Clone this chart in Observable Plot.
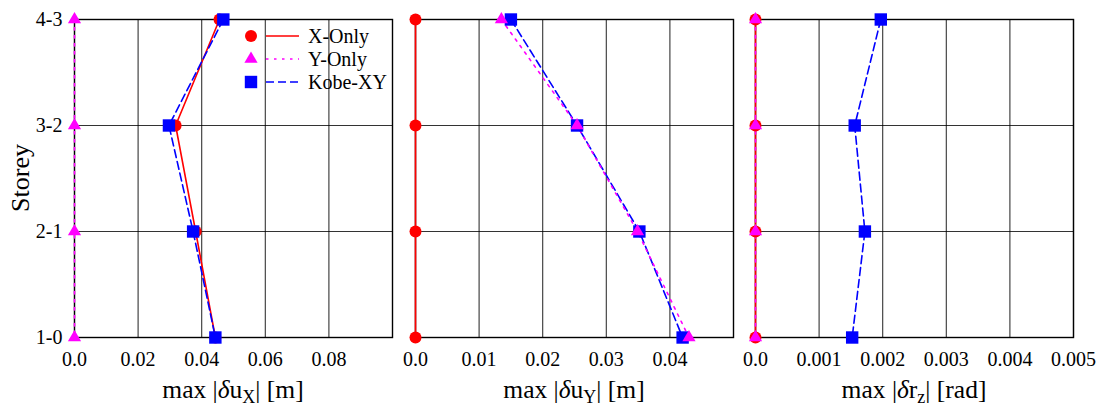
<!DOCTYPE html>
<html>
<head>
<meta charset="utf-8">
<script src="https://cdn.jsdelivr.net/npm/d3@7"></script>
<script src="https://cdn.jsdelivr.net/npm/@observablehq/plot@0.6"></script>
<style>
  html, body { margin: 0; padding: 0; background: #fff; }
  #chart { position: relative; width: 1099px; height: 406px; overflow: hidden; }
  #chart svg { position: absolute; top: 0; max-width: none; }
  #chart svg, #chart svg text, #chart svg tspan { font-family: "Liberation Serif", "Times New Roman", serif !important; }
</style>
</head>
<body>
<div id="chart"></div>
<script>
// ---- data ----
const storeys = ["4-3", "3-2", "2-1", "1-0"];
const seriesNames = ["X-Only", "Y-Only", "Kobe-XY"];
const seriesColors = ["#ff0000", "#ff00ff", "#0000ff"];

// panel 1: max |δu_X| [m]
const uxXOnly = [0.0456, 0.0318, 0.0381, 0.0443];
const uxYOnly = [0, 0, 0, 0];
const uxKobe  = [0.0468, 0.0297, 0.0373, 0.0443];
const uxTicks = [0, 0.02, 0.04, 0.06, 0.08];

// panel 2: max |δu_Y| [m]
const uyXOnly = [0, 0, 0, 0];
const uyYOnly = [0.0135, 0.0254, 0.0349, 0.0430];
const uyKobe  = [0.0150, 0.0254, 0.0352, 0.0420];
const uyTicks = [0, 0.01, 0.02, 0.03, 0.04];

// panel 3: max |δr_z| [rad]
const rzXOnly = [0, 0, 0, 0];
const rzYOnly = [0, 0, 0, 0];
const rzKobe  = [0.00197, 0.00156, 0.00172, 0.00152];
const rzTicks = [0, 0.001, 0.002, 0.003, 0.004, 0.005];

const tickFmt = d => d === 0 ? "0.0" : String(d);

function rows(vals) { return storeys.map((s, i) => ({storey: s, v: vals[i]})); }

const styles = {
  "X-Only":  {stroke: seriesColors[0], dash: null,      symbol: "circle",   r: 6},
  "Y-Only":  {stroke: seriesColors[1], dash: "2.5,5.5", symbol: "triangle", r: 4.9},
  "Kobe-XY": {stroke: seriesColors[2], dash: "8,4",     symbol: "square",   r: 7}
};

function panel({series, domain, ticks, showY, left, marginLeft, marginRight, title}) {
  const frameW = 318;
  const order = ["X-Only", "Kobe-XY", "Y-Only"];
  const marks = [
    Plot.gridX(ticks, {stroke: "#000", strokeOpacity: 0.8, strokeWidth: 1.1}),
    Plot.gridY(storeys, {stroke: "#000", strokeOpacity: 0.8, strokeWidth: 1.1}),
    Plot.frame({stroke: "#000", strokeWidth: 1.4}),
    Plot.axisX(ticks, {tickSize: 0, tickPadding: 14, tickFormat: tickFmt, label: null, fontSize: 20}),
  ];
  if (showY) marks.push(Plot.axisY({tickSize: 0, tickPadding: 12, label: null, fontSize: 20}));
  for (const name of order) {
    const st = styles[name];
    marks.push(Plot.line(rows(series[name]), {x: "v", y: "storey", stroke: st.stroke, strokeWidth: 1.6, strokeDasharray: st.dash}));
  }
  for (const name of order) {
    const st = styles[name];
    marks.push(Plot.dot(rows(series[name]), {x: "v", y: "storey", symbol: st.symbol, r: st.r, fill: st.stroke, stroke: "none"}));
  }
  const svg = Plot.plot({
    width: marginLeft + frameW + marginRight,
    height: 406,
    marginLeft, marginRight,
    marginTop: 19, marginBottom: 69,
    style: {fontSize: "20px", background: "transparent", overflow: "visible", color: "#000"},
    x: {domain, axis: null},
    y: {type: "point", domain: storeys, padding: 0, axis: null},
    marks
  });
  svg.style.left = left + "px";
  // axis title with italic delta and subscript
  const t = d3.select(svg).append("text")
    .attr("x", marginLeft + frameW / 2).attr("y", 398)
    .attr("text-anchor", "middle").attr("font-size", 25.5).attr("fill", "#000");
  t.append("tspan").text("max |");
  t.append("tspan").attr("font-style", "italic").text("δ");
  t.append("tspan").text(title.base);
  t.append("tspan").attr("font-size", 18).attr("dy", 5).text(title.sub);
  t.append("tspan").attr("dy", -5).text("| " + title.unit);
  return svg;
}

const chart = document.getElementById("chart");

const p1 = panel({
  series: {"X-Only": uxXOnly, "Y-Only": uxYOnly, "Kobe-XY": uxKobe},
  domain: [0, 0.1], ticks: uxTicks, showY: true, left: 0, marginLeft: 74, marginRight: 8,
  title: {base: "u", sub: "X", unit: "[m]"}
});
const p2 = panel({
  series: {"X-Only": uyXOnly, "Y-Only": uyYOnly, "Kobe-XY": uyKobe},
  domain: [0, 0.05], ticks: uyTicks, showY: false, left: 395, marginLeft: 20, marginRight: 8,
  title: {base: "u", sub: "Y", unit: "[m]"}
});
const p3 = panel({
  series: {"X-Only": rzXOnly, "Y-Only": rzYOnly, "Kobe-XY": rzKobe},
  domain: [0, 0.005], ticks: rzTicks, showY: false, left: 735, marginLeft: 20, marginRight: 26,
  title: {base: "r", sub: "z", unit: "[rad]"}
});

// y axis title
d3.select(p1).append("text")
  .attr("transform", "translate(29,178) rotate(-90)")
  .attr("text-anchor", "middle").attr("font-size", 26).attr("fill", "#000")
  .text("Storey");

// legend in panel 1
const lg = d3.select(p1).append("g").attr("text-anchor", "start");
seriesNames.forEach((name, i) => {
  const st = styles[name];
  const y = 36 + i * 23;
  const size = Math.PI * st.r * st.r;
  const type = st.symbol === "circle" ? d3.symbolCircle : st.symbol === "triangle" ? d3.symbolTriangle : d3.symbolSquare;
  lg.append("path").attr("transform", `translate(251,${y})`).attr("d", d3.symbol(type, size)()).attr("fill", st.stroke);
  lg.append("line").attr("x1", 266).attr("x2", 299).attr("y1", y).attr("y2", y)
    .attr("stroke", st.stroke).attr("stroke-width", 1.6).attr("stroke-dasharray", st.dash);
  lg.append("text").attr("x", 308).attr("y", y).attr("dy", "0.35em").attr("text-anchor", "start")
    .attr("font-size", 20).attr("fill", "#000").text(name);
});

chart.append(p1, p2, p3);
</script>
</body>
</html>
